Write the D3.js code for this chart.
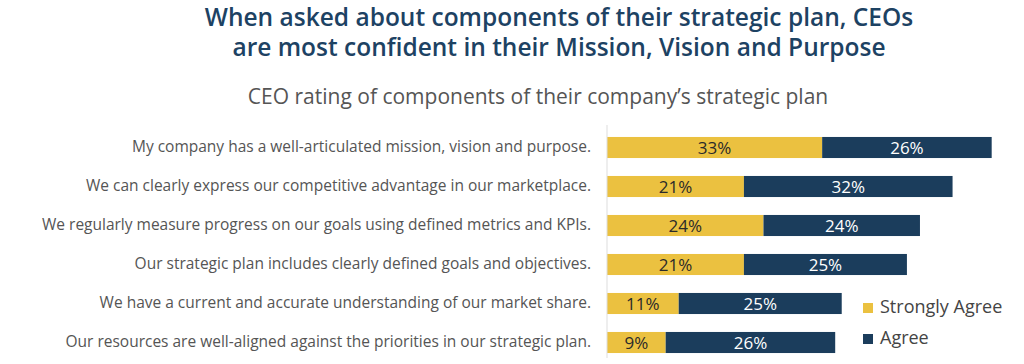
<!DOCTYPE html>
<html>
<head>
<meta charset="utf-8">
<script src="https://cdn.jsdelivr.net/npm/d3@7"></script>
<style>
  body { margin: 0; background: #fff; }
  text { font-family: "Open Sans", sans-serif; }
</style>
</head>
<body>
<svg id="drawing_region"></svg>
<script>
const categories = [
    'My company has a well-articulated mission, vision and purpose.',
    'We can clearly express our competitive advantage in our marketplace.',
    'We regularly measure progress on our goals using defined metrics and KPIs.',
    'Our strategic plan includes clearly defined goals and objectives.',
    'We have a current and accurate understanding of our market share.',
    'Our resources are well-aligned against the priorities in our strategic plan.'
];
const strongly_agree = [33, 21, 24, 21, 11, 9];
const agree = [26, 32, 24, 25, 25, 26];
const series_names = ['Strongly Agree', 'Agree'];
const colors = ['#ebc140', '#1b3d5c'];

const width = 1024, height = 364;
const svg = d3.select('#drawing_region')
    .attr('width', width)
    .attr('height', height);

// titles
const title = svg.append('text')
    .attr('x', 559)
    .attr('text-anchor', 'middle')
    .attr('font-size', '24.5px')
    .attr('font-weight', 600)
    .attr('fill', '#1d4263');
title.append('tspan').attr('x', 559).attr('y', 26)
    .text('When asked about components of their strategic plan, CEOs');
title.append('tspan').attr('x', 559).attr('y', 56)
    .text('are most confident in their Mission, Vision and Purpose');

svg.append('text')
    .attr('x', 538)
    .attr('y', 104)
    .attr('text-anchor', 'middle')
    .attr('font-size', '21px')
    .attr('fill', '#555')
    .text('CEO rating of components of their company\u2019s strategic plan');

// scales
const x0 = 607;
const xscale = d3.scaleLinear()
    .domain([0, 100])
    .range([x0, x0 + 652]);

const yscale = d3.scaleBand()
    .domain(categories)
    .range([128, 362])
    .paddingInner(0.46)
    .paddingOuter(0.23);

const data = categories.map((c, i) => ({label: c, values: [strongly_agree[i], agree[i]]}));
const stack = d3.stack().keys([0, 1]).value((d, k) => d.values[k]);
const stacked = stack(data);

const chart = svg.append('g');

stacked.forEach((layer, k) => {
    chart.append('g')
        .selectAll('rect')
        .data(layer)
        .join('rect')
        .attr('x', d => xscale(d[0]))
        .attr('y', d => yscale(d.data.label))
        .attr('width', d => xscale(d[1]) - xscale(d[0]))
        .attr('height', yscale.bandwidth())
        .attr('fill', colors[k]);

    chart.append('g')
        .selectAll('text')
        .data(layer)
        .join('text')
        .attr('x', d => (xscale(d[0]) + xscale(d[1])) / 2)
        .attr('y', d => yscale(d.data.label) + yscale.bandwidth() / 2)
        .attr('dy', '0.36em')
        .attr('text-anchor', 'middle')
        .attr('font-size', '17px')
        .attr('fill', k === 0 ? '#2a2a2a' : '#fff')
        .text(d => (d[1] - d[0]) + '%');
});

// y axis
const yaxis = d3.axisLeft(yscale).tickSize(0).tickPadding(16);
const yaxis_group = svg.append('g')
    .attr('transform', `translate(${x0}, 0)`)
    .call(yaxis);
yaxis_group.select('.domain')
    .attr('d', 'M0,125V358')
    .attr('stroke', '#ddd');
yaxis_group.selectAll('text')
    .attr('font-family', '"Open Sans", sans-serif')
    .attr('font-size', '15.5px')
    .attr('fill', '#555');

// legend
const legend = svg.append('g').attr('transform', 'translate(863, 303)');
series_names.forEach((name, i) => {
    const g = legend.append('g').attr('transform', `translate(0, ${i * 31})`);
    g.append('rect').attr('width', 10).attr('height', 10).attr('fill', colors[i]);
    g.append('text')
        .attr('x', 17)
        .attr('y', 10)
        .attr('font-size', '18px')
        .attr('fill', '#444')
        .text(name);
});
</script>
</body>
</html>
